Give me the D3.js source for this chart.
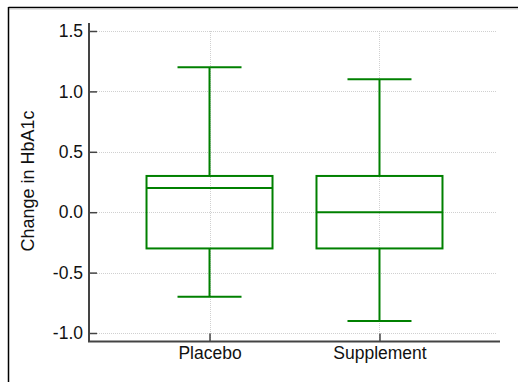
<!DOCTYPE html>
<html>
<head>
<meta charset="utf-8">
<script src="https://cdn.jsdelivr.net/npm/d3@7"></script>
<style>
  body { margin: 0; background: #fff; }
  text { font-family: "Liberation Sans", Arial, sans-serif; fill: #111; }
</style>
</head>
<body>
<svg id="boxplot" width="518" height="382"></svg>
<script>
(function () {
    // box statistics
    const groups = ["Placebo", "Supplement"];
    const lowWhisker = [-0.7, -0.9];
    const q1 = [-0.3, -0.3];
    const median = [0.2, 0.0];
    const q3 = [0.3, 0.3];
    const highWhisker = [1.2, 1.1];
    const yTicks = [-1.0, -0.5, 0.0, 0.5, 1.0, 1.5];

    const data = groups.map((g, i) => ({
        name: g, lo: lowWhisker[i], q1: q1[i], med: median[i], q3: q3[i], hi: highWhisker[i]
    }));

    const svg = d3.select("#boxplot");
    const green = "#008000";

    // outer frame (top and left edges)
    svg.append("line").attr("x1", 8.5).attr("x2", 518).attr("y1", 7.5).attr("y2", 7.5)
        .attr("stroke", "#000").attr("stroke-width", 1.5);
    svg.append("line").attr("x1", 8.5).attr("x2", 518).attr("y1", 9).attr("y2", 9)
        .attr("stroke", "#ccc").attr("stroke-width", 1);
    svg.append("line").attr("x1", 8.5).attr("x2", 8.5).attr("y1", 7).attr("y2", 382)
        .attr("stroke", "#000").attr("stroke-width", 1.5);

    const left = 89, right = 500, bottom = 341.5, top = 23;

    const y = d3.scaleLinear()
        .domain([-1.0, 1.5])
        .range([333, 31]);

    const x = d3.scalePoint()
        .domain(groups)
        .range([left, right])
        .padding(0.709);

    // dotted grid
    svg.append("g").selectAll("line")
        .data(yTicks)
        .enter()
        .append("line")
        .attr("x1", left).attr("x2", right - 3)
        .attr("y1", d => Math.round(y(d)) + 0.5).attr("y2", d => Math.round(y(d)) + 0.5)
        .attr("stroke", "#d0d0d0").attr("stroke-dasharray", "1,1");
    svg.append("g").selectAll("line")
        .data(groups)
        .enter()
        .append("line")
        .attr("x1", d => Math.round(x(d)) + 0.5).attr("x2", d => Math.round(x(d)) + 0.5)
        .attr("y1", y(1.5)).attr("y2", bottom)
        .attr("stroke", "#d0d0d0").attr("stroke-dasharray", "1,1");

    // axes with inward ticks
    const fmt = d => d.toFixed(1);   // plain hyphen minus, as in the picture
    const yAxis = svg.append("g")
        .attr("transform", `translate(${left},0)`)
        .call(d3.axisLeft(y).tickValues(yTicks).tickFormat(fmt).tickSizeInner(-8).tickSizeOuter(0).tickPadding(6));
    yAxis.select(".domain").remove();
    yAxis.append("line").attr("x1", 0).attr("x2", 0).attr("y1", top).attr("y2", bottom)
        .attr("stroke", "#444").attr("stroke-width", 2);
    yAxis.selectAll(".tick line").attr("stroke", "#444").attr("stroke-width", 1.5);
    yAxis.selectAll(".tick text").style("font-size", "17.5px")
        .attr("font-family", null).attr("fill", "#111");

    const xAxis = svg.append("g")
        .attr("transform", `translate(0,${bottom})`)
        .call(d3.axisBottom(x).tickSizeInner(-8).tickSizeOuter(0).tickPadding(5));
    xAxis.select(".domain").remove();
    xAxis.append("line").attr("x1", left - 1).attr("x2", right).attr("y1", 0).attr("y2", 0)
        .attr("stroke", "#444").attr("stroke-width", 2);
    xAxis.selectAll(".tick line").attr("stroke", "#444").attr("stroke-width", 1.5);
    xAxis.selectAll(".tick text").style("font-size", "17.5px")
        .attr("font-family", null).attr("fill", "#111");

    // y axis title
    svg.append("text")
        .attr("transform", `translate(34,${(y(1.5) + y(-1.0)) / 2 - 1}) rotate(-90)`)
        .attr("text-anchor", "middle")
        .style("font-size", "18px")
        .text("Change in HbA1c");

    // boxes
    const boxW = 126, capW = 64;
    const box = svg.append("g").selectAll("g")
        .data(data)
        .enter()
        .append("g")
        .attr("stroke", green).attr("stroke-width", 2).attr("fill", "none");

    box.append("line")
        .attr("x1", d => x(d.name)).attr("x2", d => x(d.name))
        .attr("y1", d => y(d.hi)).attr("y2", d => y(d.q3));
    box.append("line")
        .attr("x1", d => x(d.name)).attr("x2", d => x(d.name))
        .attr("y1", d => y(d.q1)).attr("y2", d => y(d.lo));
    box.append("line")
        .attr("x1", d => x(d.name) - capW / 2).attr("x2", d => x(d.name) + capW / 2)
        .attr("y1", d => y(d.hi)).attr("y2", d => y(d.hi));
    box.append("line")
        .attr("x1", d => x(d.name) - capW / 2).attr("x2", d => x(d.name) + capW / 2)
        .attr("y1", d => y(d.lo)).attr("y2", d => y(d.lo));
    box.append("rect")
        .attr("x", d => x(d.name) - boxW / 2)
        .attr("y", d => y(d.q3))
        .attr("width", boxW)
        .attr("height", d => y(d.q1) - y(d.q3));
    box.append("line")
        .attr("x1", d => x(d.name) - boxW / 2).attr("x2", d => x(d.name) + boxW / 2)
        .attr("y1", d => y(d.med)).attr("y2", d => y(d.med));
})();
</script>
</body>
</html>
